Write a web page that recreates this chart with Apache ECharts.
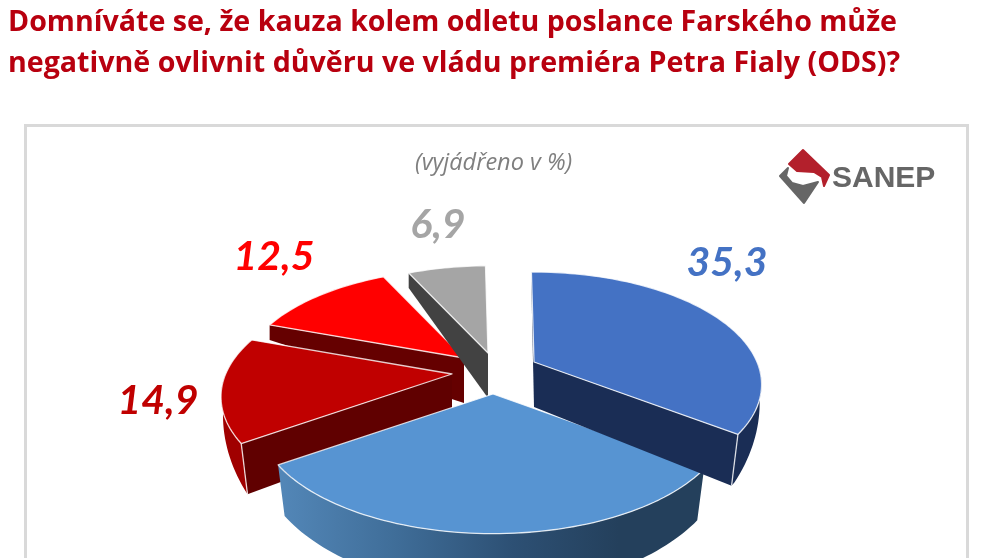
<!DOCTYPE html>
<html lang="cs">
<head>
<meta charset="utf-8">
<title>SANEP</title>
<style>html,body{margin:0;padding:0;background:#fff;overflow:hidden}#c{width:991px;height:558px}</style>
<script src="https://cdn.jsdelivr.net/npm/echarts@6/dist/echarts.min.js"></script>
</head>
<body>
<div id="c"></div>
<script>
// ---- data ----
const answers = ['rozhodně ano', 'spíše ano', 'spíše ne', 'rozhodně ne', 'nevím'];
const shares = [35.3, 30.4, 14.9, 12.5, 6.9];
const titleLines = [
  'Domníváte se, že kauza kolem odletu poslance Farského může',
  'negativně ovlivnit důvěru ve vládu premiéra Petra Fialy (ODS)?'
];
const subtitle = '(vyjádřeno v %)';

// ---- layout and style (not data) ----
const apex = [[534, 362], [493, 394], [452, 374], [464, 358], [488, 353]];
const sliceScale = [1, 1.035, 1.015, 0.985, 0.97];
const labelAt = [[727, 263], null, [158, 401], [274, 257], [438, 225]];
const paintOrder = [3, 4, 2, 1, 0];
const topColor = ['#4472c4', '#5794d2', '#c00000', '#ff0000', '#a5a5a5'];
const faceColor = ['#1a2d55', '#24405c', '#600000', '#650000', '#424242'];
const labelColor = ['#4472c4', '#5b9bd5', '#c00000', '#ff0000', '#a5a5a5'];
const R = 223, TILT = 0.484, PERSP = 0.2, START = -0.8;

function project(a, deg, s) {
  const t = deg * Math.PI / 180, u = Math.sin(t), v = -Math.cos(t), w = 1 - PERSP * v;
  return [a[0] + s * R * u / w, a[1] + s * R * TILT * v / w];
}
function below(a, p) {
  const dy = p[1] - a[1], dx = p[0] - a[0];
  let d;
  if (dy <= 0) d = 15;
  else if (dy <= 70) d = 15 + dy * 36 / 70;
  else d = 51 + (dy - 70) * 0.08;
  const shift = dy > 0 ? 0.03 * dy / 70 * dx : 0;
  return [p[0] - shift, p[1] + d];
}
function arc(a0, a1) {
  const out = [], n = Math.max(2, Math.ceil(Math.abs(a1 - a0) / 1.5));
  for (let i = 0; i <= n; i++) out.push(a0 + (a1 - a0) * i / n);
  return out;
}
const EDGE = 'rgba(255,255,255,0.8)';

function renderSlice(params, api) {
  const idx = params.dataIndex;
  const total = shares.reduce((s, x) => s + x, 0);
  let before = 0;
  for (let i = 0; i < idx; i++) before += shares[i];
  const a0 = START + before / total * 360;
  const a1 = a0 + api.value(0) / total * 360;
  const A = apex[idx], S = sliceScale[idx];
  const base = paintOrder.indexOf(idx) * 10;
  const kids = [];
  const apexBot = [A[0], A[1] + 45];

  const face = (deg) => {
    const top = project(A, deg, S), bot = below(A, top);
    kids.push({ type: 'polygon', z2: base + 1, shape: { points: [A, top, bot, apexBot] },
      style: { fill: faceColor[idx] } });
  };
  const norm = (d) => ((d % 360) + 360) % 360;
  if (norm(a0) > 180) face(a0);
  if (norm(a1) < 180) face(a1);

  // outer wall: only the part turned towards the viewer
  const front = arc(a0, a1).filter(d => project(A, d, S)[1] >= A[1]);
  if (front.length > 1) {
    const tops = front.map(d => project(A, d, S));
    const bots = tops.map(p => below(A, p)).reverse();
    let fill = faceColor[idx];
    if (idx === 1) fill = new echarts.graphic.LinearGradient(0, 0, 1, 0, [
      { offset: 0, color: '#5387b8' }, { offset: 0.28, color: '#3f6d98' },
      { offset: 0.55, color: '#2d5074' }, { offset: 0.8, color: '#24405c' }, { offset: 1, color: '#24405c' }]);
    if (idx === 2) fill = '#a00000';
    kids.push({ type: 'polygon', z2: base + 2, shape: { points: tops.concat(bots) }, style: { fill: fill } });
    if (idx !== 1) {
      const corner = idx === 0 ? a1 : a0, p = project(A, corner, S);
      kids.push({ type: 'polyline', z2: base + 3, shape: { points: [p, below(A, p)] },
        style: { stroke: EDGE, lineWidth: 1.3, fill: null } });
    }
  }

  // top surface
  const rim = arc(a0, a1).map(d => project(A, d, S));
  kids.push({ type: 'polygon', z2: base + 4, shape: { points: [A].concat(rim) },
    style: { fill: topColor[idx], stroke: EDGE, lineWidth: 1.3, lineJoin: 'round' } });

  if (labelAt[idx]) {
    kids.push({ type: 'text', z2: 100, style: {
      x: labelAt[idx][0], y: labelAt[idx][1],
      text: api.value(0).toFixed(1).replace('.', ','),
      fill: labelColor[idx], fontFamily: 'Lato', fontStyle: 'italic', fontWeight: 'bold', fontSize: 41,
      textAlign: 'center', textVerticalAlign: 'middle' } });
  }
  return { type: 'group', children: kids };
}

const chart = echarts.init(document.getElementById('c'), null, { renderer: 'canvas', width: 991, height: 558 });
chart.setOption({
  animation: false,
  backgroundColor: '#ffffff',
  title: [
    { text: titleLines.join('\n'), left: 8, top: 2, padding: 0,
      textStyle: { fontFamily: 'Open Sans', fontWeight: 'bold', fontSize: 28.6, lineHeight: 41, color: '#b8000f' } },
    { text: subtitle, left: 415, top: 150, padding: 0,
      textStyle: { fontFamily: 'Open Sans', fontStyle: 'italic', fontWeight: 'normal', fontSize: 23.5, lineHeight: 26, color: '#7f7f7f' } }
  ],
  graphic: [
    { type: 'rect', z: 0, shape: { x: 25.5, y: 125.5, width: 942, height: 480 },
      style: { fill: '#fff', stroke: '#d9d9d9', lineWidth: 3 } },
    { type: 'polygon', z: 1, shape: { points: [[803, 150], [829, 175], [824, 186], [822, 177], [814, 172], [797, 171], [789, 164]] },
      style: { fill: '#b3202c', stroke: '#b3202c', lineWidth: 2, lineJoin: 'round' } },
    { type: 'polygon', z: 1, shape: { points: [[780, 176], [788, 168], [786, 176], [792, 183], [803, 186], [818, 182], [804, 203]] },
      style: { fill: '#666', stroke: '#666', lineWidth: 2, lineJoin: 'round' } },
    { type: 'text', z: 1, style: { x: 832, y: 179, text: 'SANEP', fill: '#666', fontFamily: 'Liberation Sans', fontWeight: 'bold', fontSize: 30,
      textAlign: 'left', textVerticalAlign: 'middle' } }
  ],
  series: [{
    type: 'custom',
    coordinateSystem: 'none',
    clip: false,
    renderItem: renderSlice,
    data: shares.map((v, i) => ({ name: answers[i], value: [v] }))
  }]
});
</script>
</body>
</html>
